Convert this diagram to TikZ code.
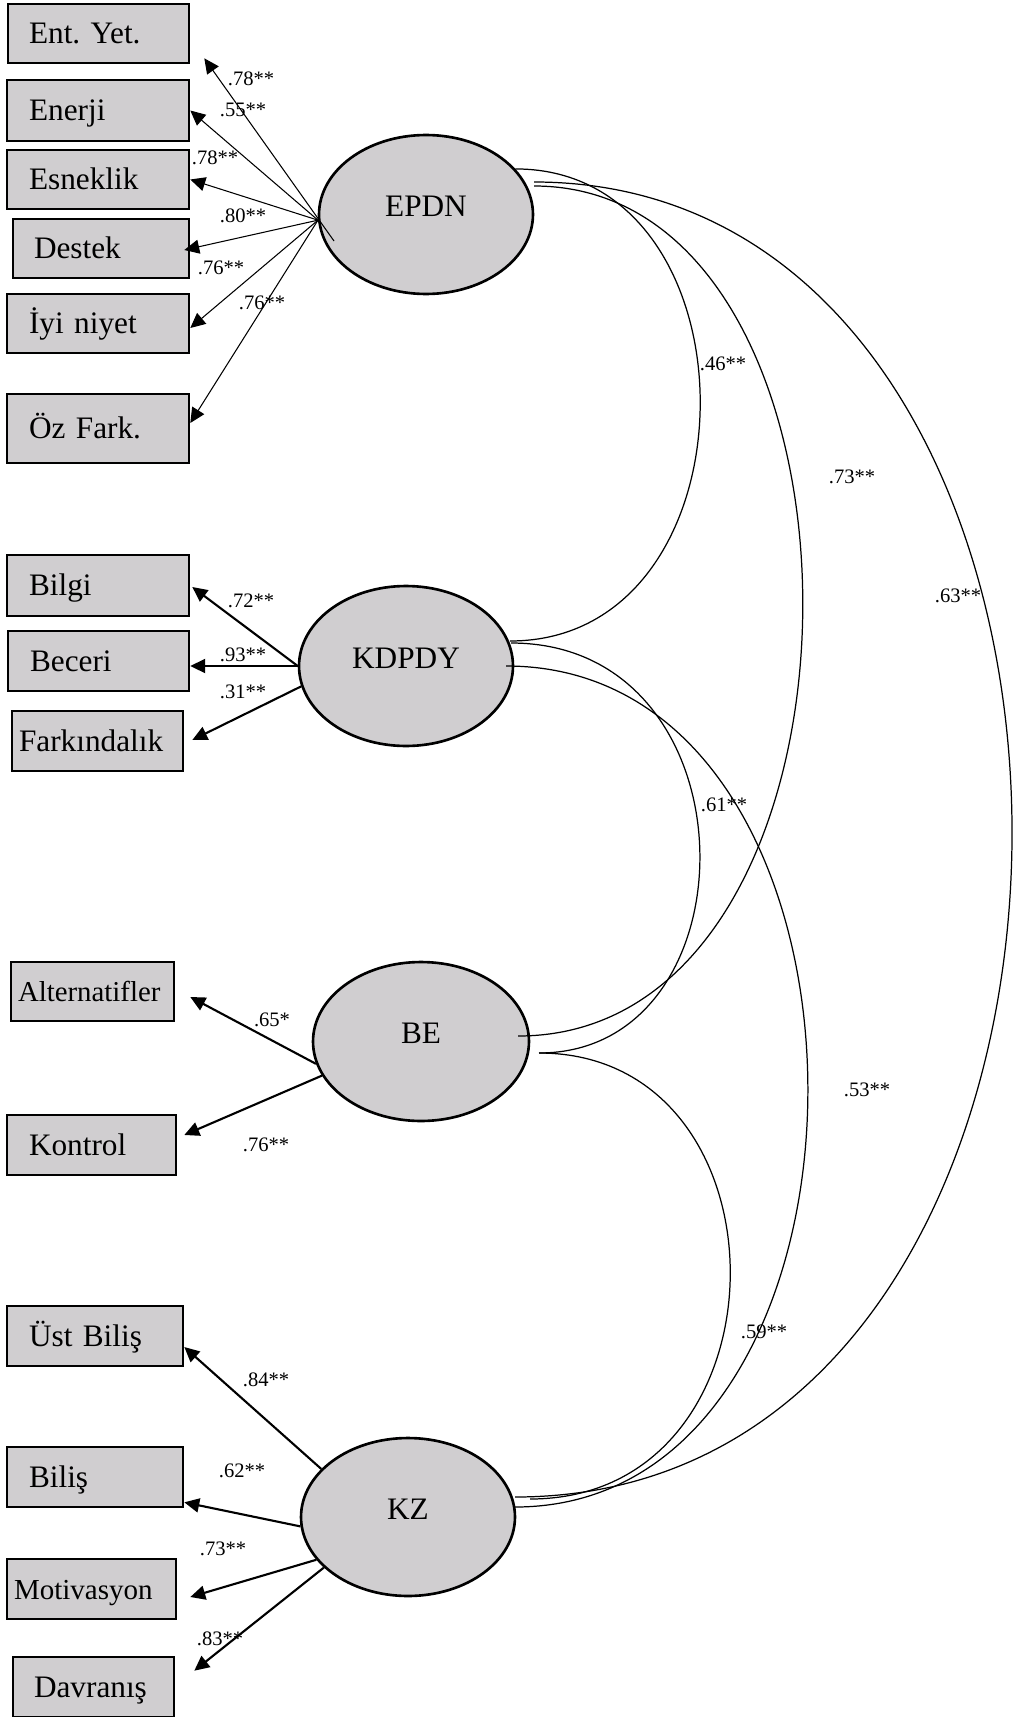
\documentclass[tikz,border=0pt]{standalone}
\usepackage{fontspec}
\setmainfont{Liberation Serif}
\usetikzlibrary{shapes.geometric,arrows.meta}

\definecolor{latgray}{RGB}{208,206,208}

\tikzset{
  obs/.style 2 args={draw, line width=1.5pt, fill=latgray, rectangle, align=left,
    text width=#1cm, inner xsep=#2cm, inner ysep=0pt, minimum height=1.2cm,
    font=\fontsize{17.8}{20}\selectfont, text height=11.8pt, text depth=0pt},
  lat/.style={draw, line width=1.5pt, fill=latgray, ellipse, inner sep=0pt,
    minimum width=4.28cm, minimum height=3.18cm,
    font=\fontsize{17.8}{20}\selectfont, text height=11.8pt, text depth=9pt},
  load/.style={-{Triangle[length=8.5pt,width=8pt]}, line width=1.2pt},
  thinload/.style={-{Triangle[length=8.5pt,width=8pt]}, line width=0.6pt},
  cov/.style={line width=0.7pt},
  coef/.style={font=\fontsize{11.7}{13}\selectfont, inner sep=0pt, text height=7.9pt, text depth=0pt},
}

\begin{document}
\begin{tikzpicture}[x=0.02cm, y=-0.02cm]
  \useasboundingbox (0,0) rectangle (1015,1717);

  % EPDN and its indicators
  \node[obs={2.78}{0.42}, minimum height=1.18cm] (entyet) at (98.5,33.5) {Ent.\ Yet.};
  \node[obs={2.76}{0.44}, minimum height=1.22cm] (enerji) at (98,110.5) {Enerji};
  \node[obs={2.76}{0.44}, minimum height=1.18cm] (esneklik) at (98,179.5) {Esneklik};
  \node[obs={2.68}{0.42}, minimum height=1.18cm] (destek) at (101,248.5) {Destek};
  \node[obs={2.76}{0.44}, minimum height=1.18cm] (iyiniyet) at (98,323.5) {İyi niyet};
  \node[obs={2.76}{0.44}, minimum height=1.38cm] (ozfark) at (98,428.5) {Öz Fark.};
  \node[lat] (epdn) at (426,214.5) {EPDN};

  % KDPDY and its indicators
  \node[obs={2.76}{0.44}, minimum height=1.22cm] (bilgi) at (98,585.5) {Bilgi};
  \node[obs={2.74}{0.44}] (beceri) at (98.5,661) {Beceri};
  \node[obs={3.14}{0.14}] (farkindalik) at (97.5,741) {Farkındalık};
  \node[lat, minimum height=3.2cm] (kdpdy) at (406,666) {KDPDY};

  % BE and its indicators
  \node[obs={2.98}{0.14}, minimum height=1.18cm, font=\fontsize{16.4}{19}\selectfont] (alternatifler) at (92.5,991.5) {Alternatifler};
  \node[obs={2.5}{0.44}] (kontrol) at (91.5,1145) {Kontrol};
  \node[lat, minimum width=4.32cm] (be) at (421,1041.5) {BE};

  % KZ and its indicators
  \node[obs={2.64}{0.44}] (ustbilis) at (95,1336) {Üst Biliş};
  \node[obs={2.64}{0.44}] (bilis) at (95,1477) {Biliş};
  \node[obs={3.1}{0.14}, font=\fontsize{16.5}{19}\selectfont] (motivasyon) at (91.5,1589) {Motivasyon};
  \node[obs={2.38}{0.42}] (davranis) at (93.5,1687) {Davranış};
  \node[lat, minimum height=3.16cm] (kz) at (408,1517) {KZ};

  % loadings of EPDN
  \coordinate (stub) at ([shift={(-92,26.5)}]epdn.center);
  \draw[thinload] (stub) -- ([shift={(14,-6)}]entyet.south east);
  \draw[thinload] (epdn.183) -- (enerji.east);
  \draw[thinload] (epdn.183) -- (esneklik.east);
  \draw[thinload] (epdn.183) -- ([shift={(-6,1.5)}]destek.east);
  \draw[thinload] (epdn.183) -- ([shift={(0,4.5)}]iyiniyet.east);
  \draw[thinload] (epdn.183) -- ([shift={(0,-5.5)}]ozfark.east);
  \node[coef] (w1) at (251,79) {.78**};
  \node[coef] (w2) at (243,110) {.55**};
  \node[coef] (w3) at (215,158) {.78**};
  \node[coef] (w4) at (243,216) {.80**};
  \node[coef] (w5) at (221,268) {.76**};
  \node[coef] (w6) at (262,303) {.76**};

  % loadings of KDPDY
  \draw[load] (kdpdy.west) -- ([shift={(2,1.5)}]bilgi.east);
  \draw[load] (kdpdy.west) -- (kdpdy.west -| beceri.east);
  \draw[load] (kdpdy.191) -- ([shift={(8,-1)}]farkindalik.east);
  \node[coef] (w7) at (251,601) {.72**};
  \node[coef] (w8) at (243,655) {.93**};
  \node[coef] (w9) at (243,692) {.31**};

  % loadings of BE
  \draw[load] (be.192) -- ([shift={(15,5.5)}]alternatifler.east);
  \draw[load] (be.199) -- ([shift={(7,-10)}]kontrol.east);
  \node[coef] (w10) at (272,1020) {.65*};
  \node[coef] (w11) at (266,1145) {.76**};

  % loadings of KZ
  \draw[load] (kz.151) -- ([shift={(0,11)}]ustbilis.east);
  \draw[load] (kz.185) -- ([shift={(0,-6)}]bilis.south east);
  \draw[load] (kz.205) -- ([shift={(13,8)}]motivasyon.east);
  \draw[load] (kz.211) -- ([shift={(19,15)}]davranis.north east);
  \node[coef] (w12) at (266,1380) {.84**};
  \node[coef] (w13) at (242,1471) {.62**};
  \node[coef] (w14) at (223,1549) {.73**};
  \node[coef] (w15) at (220,1639) {.83**};

  % correlations between the factors
  \draw[cov] (epdn.27) .. controls +(248,0) and +(252,0) .. ([shift={(104,-25)}]kdpdy.center);
  \draw[cov] ([shift={(108,-28.5)}]epdn.center) .. controls +(361,0) and +(377,0) .. ([shift={(97,-5.5)}]be.center);
  \draw[cov] ([shift={(108,-32.5)}]epdn.center) .. controls +(640,0) and +(660,0) .. ([shift={(107,-20)}]kz.center);
  \draw[cov] ([shift={(105,-23)}]kdpdy.center) .. controls +(247,0) and +(219,0) .. ([shift={(118,11.5)}]be.center);
  \draw[cov] ([shift={(100,0)}]kdpdy.center) .. controls +(401,0) and +(392,0) .. ([shift={(107,-10)}]kz.center);
  \draw[cov] ([shift={(118,11.5)}]be.center) .. controls +(257,0) and +(265,0) .. ([shift={(122,-18)}]kz.center);
  \node[coef] (r1) at (723,364) {.46**};
  \node[coef] (r2) at (852,477) {.73**};
  \node[coef] (r3) at (958,596) {.63**};
  \node[coef] (r4) at (724,805) {.61**};
  \node[coef] (r5) at (867,1090) {.53**};
  \node[coef] (r6) at (764,1332) {.59**};
\end{tikzpicture}
\end{document}
